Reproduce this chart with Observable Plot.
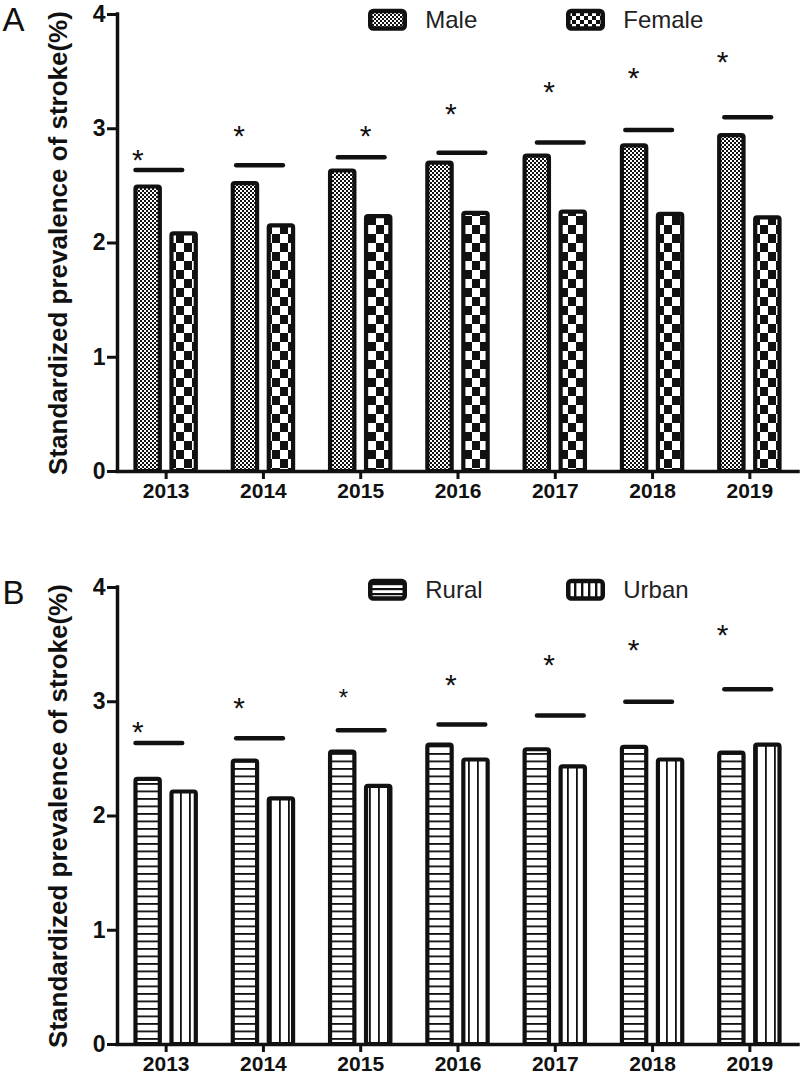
<!DOCTYPE html>
<html><head><meta charset="utf-8">
<script src="https://cdn.jsdelivr.net/npm/d3@7"></script>
<script src="https://cdn.jsdelivr.net/npm/@observablehq/plot@0.6"></script>
<style>
body{margin:0;background:#fff;}
#root svg{display:block;}
</style></head><body><div id="root"></div>
<script>
// ---------- data ----------
const years = [2013, 2014, 2015, 2016, 2017, 2018, 2019];
const yTicks = [0, 1, 2, 3, 4];
const yLabel = "Standardized prevalence of stroke(%)";

// Panel A
const maleValues   = [2.49, 2.52, 2.63, 2.70, 2.76, 2.85, 2.94];
const femaleValues = [2.08, 2.15, 2.23, 2.26, 2.27, 2.25, 2.22];
// Panel B
const ruralValues  = [2.32, 2.48, 2.56, 2.62, 2.58, 2.60, 2.55];
const urbanValues  = [2.21, 2.15, 2.26, 2.49, 2.43, 2.49, 2.62];

// significance bars (y value, start offset from the year tick in year units)
const sigLineA = [2.64, 2.68, 2.75, 2.79, 2.88, 2.99, 3.10];
const sigLineB = [2.64, 2.68, 2.75, 2.80, 2.88, 3.00, 3.11];
const sigLineStart = [-0.31, -0.275, -0.23, -0.195, -0.183, -0.275, -0.257];
const sigLineLength = 0.48;

// asterisks (y value, x offset from the year tick in year units, size)
const starA = [2.79, 3.00, 3.00, 3.20, 3.39, 3.51, 3.65];
const starB = [2.80, 3.01, 3.10, 3.21, 3.39, 3.52, 3.65];
const starOffA = [-0.29, -0.25, 0.05, -0.074, -0.063, -0.195, -0.28];
const starOffB = [-0.29, -0.25, -0.177, -0.074, -0.063, -0.195, -0.28];
const starSizeA = [30, 30, 30, 30, 30, 30, 30];
const starSizeB = [30, 30, 24, 30, 30, 30, 30];

// ---------- helpers ----------
const INK = "#111";
const FONT = "'Liberation Sans', Arial, sans-serif";

function defsMark(prefix) {
  return () => {
    const defs = d3.create("svg:defs");
    const pat = (name, w, h, shapes) => {
      const p = defs.append("pattern").attr("id", `${prefix}-${name}`)
        .attr("patternUnits", "userSpaceOnUse").attr("width", w).attr("height", h);
      p.append("rect").attr("width", w).attr("height", h).attr("fill", "#fff");
      shapes.forEach(([x, y, sw, sh]) => p.append("rect").attr("x", x).attr("y", y)
        .attr("width", sw).attr("height", sh).attr("fill", INK));
    };
    pat("male", 4, 4, [[0, 0, 2, 2], [2, 2, 2, 2]]);
    pat("female", 16, 18, [[0, 0, 8, 9], [8, 9, 8, 9]]);
    pat("rural", 10, 7.5, [[0, 0, 10, 1.8]]);
    pat("urban", 9, 10, [[0, 0, 1.8, 10]]);
    pat("male-lg", 4, 4, [[0, 0, 2, 2], [2, 2, 2, 2]]);
    pat("female-lg", 8, 8, [[0, 0, 4, 4], [4, 4, 4, 4]]);
    pat("rural-lg", 10, 5, [[0, 0, 10, 2.2]]);
    pat("urban-lg", 7, 10, [[0, 0, 2.4, 10]]);
    return defs.node();
  };
}

function legendMark(items, prefix, top) {
  return () => {
    const g = d3.create("svg:g");
    for (const it of items) {
      g.append("rect").attr("x", it.x).attr("y", top).attr("width", 34.5).attr("height", 17.5)
        .attr("rx", 3).attr("fill", `url(#${prefix}-${it.key}-lg)`)
        .attr("stroke", INK).attr("stroke-width", 4.5);
      g.append("text").attr("x", it.x + 55).attr("y", top + 16.5)
        .attr("text-anchor", "start")
        .attr("font-family", FONT).attr("font-size", 24).attr("fill", "#222").text(it.label);
    }
    return g.node();
  };
}

function makePanel(cfg) {
  const {prefix, height, marginBottom, panelLabel, series, sigY, starY, starOff, starSize, legendTop} = cfg;
  const sideOffsets = [[-0.31, -0.06], [0.06, 0.31]];
  const bars = [];
  series.forEach((s, k) => years.forEach((yr, i) =>
    bars.push({year: yr, key: s.key, value: s.values[i], x1: yr + sideOffsets[k][0], x2: yr + sideOffsets[k][1]})));
  const sig = years.map((yr, i) => ({year: yr, y: sigY[i], x1: yr + sigLineStart[i], x2: yr + sigLineStart[i] + sigLineLength}));
  const stars = years.map((yr, i) => ({x: yr + starOff[i], y: starY[i], size: starSize[i]}));

  return Plot.plot({
    width: 800,
    height,
    marginTop: 14,
    marginLeft: 117,
    marginRight: 2,
    marginBottom,
    style: {fontFamily: FONT, color: INK, background: "#fff", overflow: "visible"},
    x: {domain: [years[0] - 0.5, years[years.length - 1] + 0.5], axis: null},
    y: {domain: [0, 4], axis: null},
    marks: [
      defsMark(prefix),
      Plot.rect(bars, {
        x1: "x1", x2: "x2", y1: 0, y2: "value",
        fill: d => `url(#${prefix}-${d.key})`,
        stroke: INK, strokeWidth: 4.2, rx: 2
      }),
      Plot.ruleY(sig, {y: "y", x1: "x1", x2: "x2", stroke: INK, strokeWidth: 4.5, strokeLinecap: "round"}),
      Plot.text(stars, {x: "x", y: "y", text: () => "*", fontSize: "size", dy: 8, fill: INK}),
      // axes
      Plot.ruleY([0], {stroke: INK, strokeWidth: 3.5, strokeLinecap: "square"}),
      Plot.ruleX([years[0] - 0.5], {y1: 0, y2: 4, stroke: INK, strokeWidth: 3.5, strokeLinecap: "square"}),
      Plot.axisY(yTicks, {tickSize: 10, tickPadding: 2, strokeWidth: 3, fontSize: 23, fontWeight: "bold",
        tickFormat: d => String(d), label: null}),
      Plot.axisX(years, {tickSize: 8, tickPadding: 4, strokeWidth: 3, fontSize: 21, fontWeight: "bold",
        tickFormat: d => String(d), label: null}),
      Plot.text([yLabel], {frameAnchor: "left", rotate: -90, dx: -51, textAnchor: "middle", lineAnchor: "bottom",
        fontSize: 26, fontWeight: "bold", fill: INK}),
      Plot.text([panelLabel], {frameAnchor: "top-left", dx: -115, dy: -7, lineAnchor: "top", textAnchor: "start",
        fontSize: 33, fontFamily: FONT, fill: INK}),
      legendMark(series.map((s, k) => ({key: s.key, label: s.label, x: k === 0 ? 370.25 : 568.25})), prefix, legendTop)
    ]
  });
}

const panelA = makePanel({
  prefix: "pa", height: 573, marginBottom: 102, panelLabel: "A",
  series: [{key: "male", label: "Male", values: maleValues}, {key: "female", label: "Female", values: femaleValues}],
  sigY: sigLineA, starY: starA, starOff: starOffA, starSize: starSizeA, legendTop: 11
});
const panelB = makePanel({
  prefix: "pb", height: 505, marginBottom: 34, panelLabel: "B",
  series: [{key: "rural", label: "Rural", values: ruralValues}, {key: "urban", label: "Urban", values: urbanValues}],
  sigY: sigLineB, starY: starB, starOff: starOffB, starSize: starSizeB, legendTop: 8
});
document.getElementById("root").append(panelA, panelB);
</script>
</body></html>
